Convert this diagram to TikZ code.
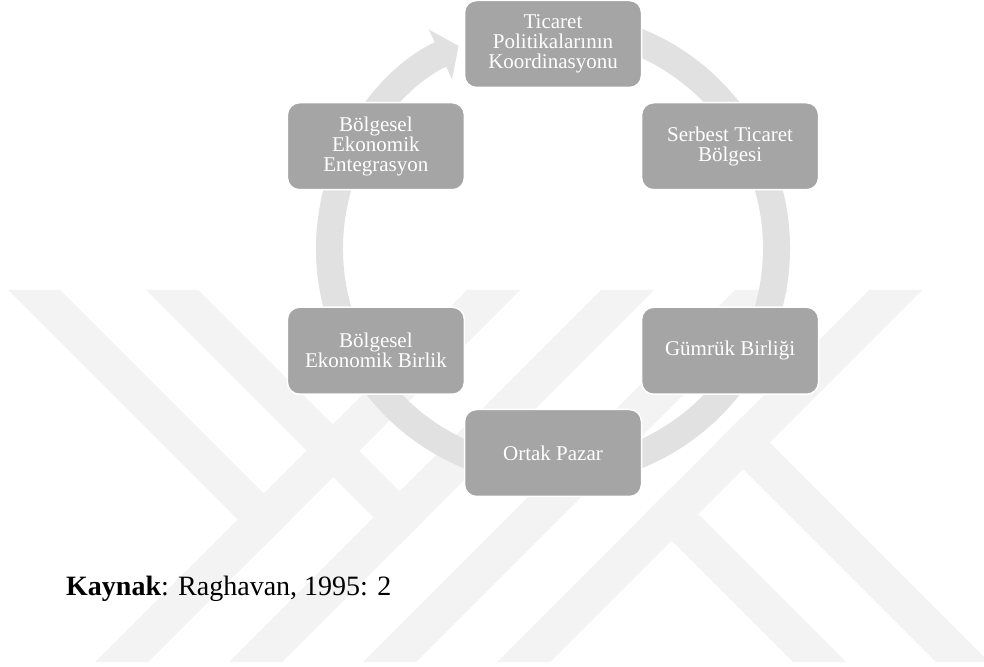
\documentclass[tikz,border=0pt]{standalone}
\usepackage{fontspec}
\setmainfont{Liberation Serif}
\usetikzlibrary{calc,positioning,arrows.meta}
\definecolor{boxgray}{HTML}{A5A5A5}
\definecolor{ringgray}{HTML}{E1E1E1}
\definecolor{markgray}{HTML}{F3F3F3}
\tikzset{
	stage/.style={rectangle, rounded corners=12pt, fill=boxgray, draw=white, line width=1.5pt,
		minimum width=177pt, minimum height=87pt, text=white, align=center,
		font=\fontsize{21}{20}\selectfont},
	wmark/.style={fill=markgray},
}

\begin{document}
\begin{tikzpicture}[x=1pt,y=1pt]
	\useasboundingbox (0,0) rectangle (984,666);
	\clip (0,0) rectangle (984,666);
	\fill[white] (0,0) rectangle (984,666);

	% watermark stripes
	\foreach \x in {467,601,735,869}{
	\fill[wmark] (\x,376) -- ++(53,0) -- ++(-372,-372) -- ++(-53,0) -- cycle;
	}
	\fill[wmark] (8,376) -- ++(52,0) -- ++(230,-230) -- ++(-26,-26) -- cycle;
	\fill[wmark] (146,376) -- ++(52,0) -- ++(228,-228) -- ++(-26,-26) -- cycle;
	\fill[wmark] (793,4) -- ++(53,0) -- (671.5,178.5) -- (645,152) -- cycle;
	\fill[wmark] (936,4) -- ++(53,0) -- (743,250) -- (716.5,223.5) -- cycle;

	% cycle arrow
	\coordinate (c) at (553,417.5);
	\draw[ringgray, line width=27pt, -{Triangle[width=54pt,length=20pt]}]
		($(c)+(80:223.5)$) arc[start angle=80, end angle=-245, radius=223.5];

	\node[stage] (coord) at ($(c)+(90:204.5)$) {Ticaret\\Politikalarının\\Koordinasyonu};
	\node[stage] (stb) at ($(c)+(30:204.5)$) {Serbest Ticaret\\Bölgesi};
	\node[stage] (gb) at ($(c)+(-30:204.5)$) {Gümrük Birliği};
	\node[stage] (op) at ($(c)+(-90:204.5)$) {Ortak Pazar};
	\node[stage] (beb) at ($(c)+(210:204.5)$) {Bölgesel\\Ekonomik Birlik};
	\node[stage] (bee) at ($(c)+(150:204.5)$) {Bölgesel\\Ekonomik\\Entegrasyon};

	\node[anchor=base west, inner sep=0pt, font=\fontsize{28}{30}\selectfont] (kaynak) at (66,70)
		{\textbf{Kaynak}: Raghavan, 1995: 2};
\end{tikzpicture}
\end{document}
